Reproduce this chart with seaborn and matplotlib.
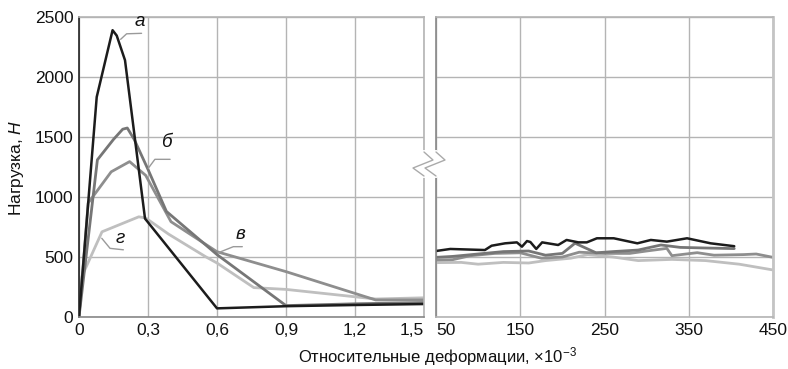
import numpy as np
import pandas as pd
import seaborn as sns
import matplotlib.pyplot as plt
from matplotlib.lines import Line2D

# --- data ---
# left part: small deformations (x 10^-3)
a_x = [0, 0.077, 0.146, 0.164, 0.2, 0.287, 0.6, 0.65, 0.9, 1.2, 1.5]
a_y = [0, 1833, 2390, 2345, 2140, 820, 72, 75, 90, 100, 108]
b_x = [0, 0.08, 0.15, 0.19, 0.21, 0.24, 0.3, 0.38, 0.6, 0.9, 1.0, 1.2, 1.5]
b_y = [0, 1310, 1480, 1565, 1575, 1480, 1230, 880, 520, 95, 100, 110, 120]
v_x = [0, 0.04, 0.14, 0.22, 0.29, 0.4, 0.6, 0.9, 1.29, 1.5]
v_y = [0, 950, 1210, 1295, 1180, 794, 544, 378, 142, 142]
g_x = [0, 0.012, 0.1, 0.26, 0.29, 0.39, 0.55, 0.6, 0.76, 0.9, 1.29, 1.5]
g_y = [0, 336, 710, 835, 825, 690, 503, 450, 245, 230, 150, 160]

# right part: large deformations
ra_x = [50, 67, 108, 116, 132, 146, 152, 158, 162, 169, 176, 195, 205, 219, 229,
        241, 261, 289, 305, 324, 348, 376, 404]
ra_y = [550, 567, 558, 594, 614, 622, 586, 633, 625, 567, 622, 600, 642, 622, 622,
        656, 656, 614, 642, 628, 656, 614, 590]
rb_x = [50, 70, 100, 130, 160, 180, 200, 215, 240, 260, 290, 317, 340, 370, 404]
rb_y = [497, 505, 525, 545, 550, 515, 530, 615, 535, 545, 558, 600, 580, 575, 570]
rv_x = [50, 70, 90, 120, 150, 175, 200, 220, 250, 280, 300, 324, 330, 360, 380, 415, 430, 450]
rv_y = [475, 478, 510, 530, 535, 490, 500, 540, 530, 530, 550, 572, 511, 536, 515, 520, 525, 497]
rg_x = [50, 80, 100, 130, 160, 180, 210, 230, 260, 290, 330, 370, 410, 450]
rg_y = [453, 455, 440, 455, 450, 470, 490, 520, 500, 470, 480, 470, 440, 392]

curve_names = ['а', 'б', 'в', 'г']
colors = {'а': '#1c1c1c', 'б': '#767676', 'в': '#8e8e8e', 'г': '#bfbfbf'}

left_ticks = [0, 0.3, 0.6, 0.9, 1.2, 1.5]
left_tick_labels = ['0', '0,3', '0,6', '0,9', '1,2', '1,5']
right_ticks = [50, 150, 250, 350, 450]
y_ticks = [0, 500, 1000, 1500, 2000, 2500]


def long_df(pairs):
    rows = []
    for name, (xs, ys) in zip(curve_names, pairs):
        for i, (x, y) in enumerate(zip(xs, ys)):
            rows.append({'x': x, 'y': y, 'curve': name, 'i': i})
    return pd.DataFrame(rows)


df_left = long_df([(a_x, a_y), (b_x, b_y), (v_x, v_y), (g_x, g_y)])
df_right = long_df([(ra_x, ra_y), (rb_x, rb_y), (rv_x, rv_y), (rg_x, rg_y)])

sns.set_theme(style='white')
plt.rcParams['font.family'] = ['Liberation Sans', 'DejaVu Sans']
plt.rcParams['mathtext.fontset'] = 'custom'
plt.rcParams['mathtext.rm'] = 'Liberation Sans'
plt.rcParams['mathtext.it'] = 'Liberation Sans:italic'

W, H = 788, 369
fig = plt.figure(figsize=(W / 100, H / 100), dpi=100)
ax1 = fig.add_axes([79 / W, 1 - 317 / H, 345 / W, 300 / H])
ax2 = fig.add_axes([436 / W, 1 - 317 / H, 337 / W, 300 / H])

grid_c = '#b4b4b4'
for ax, df in [(ax1, df_left), (ax2, df_right)]:
    # light curves first so the black one stays on top
    for name in ['г', 'в', 'б', 'а']:
        sub = df[df['curve'] == name]
        sns.lineplot(data=sub, x='x', y='y', sort=False, estimator=None,
                     color=colors[name], linewidth=2.0 if name != 'а' else 1.8,
                     ax=ax, legend=False)
    ax.set_ylim(0, 2500)
    ax.set_yticks(y_ticks)
    ax.grid(True, color=grid_c, linewidth=1.0)
    ax.set_axisbelow(True)
    ax.set_xlabel('')
    ax.set_ylabel('')
    ax.tick_params(axis='both', length=0, labelsize=12.5, colors='#111111', pad=4)
    for s in ax.spines.values():
        s.set_color(grid_c)
        s.set_linewidth(1.2)

ax1.set_xlim(0, 1.5)
ax1.set_xticks(left_ticks)
ax1.set_xticklabels(left_tick_labels)
ax1.spines['left'].set_color('#222222')
ax1.spines['bottom'].set_color('#888888')
# keep "1,5" clear of the "50" on the right panel
ax1.get_xticklabels()[-1].set_horizontalalignment('right')
ax1.get_xticklabels()[-1].set_x(1.5)

ax2.set_xlim(50, 450)
ax2.set_xticks(right_ticks)
ax2.set_yticklabels([])
ax2.get_xticklabels()[0].set_horizontalalignment('left')
ax2.spines['left'].set_color('#888888')
ax2.spines['right'].set_color('#c4c4c4')
ax2.spines['right'].set_linewidth(2)

# curve labels with leader lines
labels = [
    ('а', 0.24, 2395, [(0.181, 2314), (0.207, 2360), (0.272, 2364)]),
    ('б', 0.355, 1380, [(0.301, 1239), (0.33, 1314), (0.396, 1314)]),
    ('в', 0.68, 620, [(0.606, 536), (0.671, 586), (0.71, 586)]),
    ('г', 0.158, 580, [(0.099, 656), (0.135, 572), (0.193, 560)]),
]
for name, tx, ty, pts in labels:
    xs, ys = zip(*pts)
    ax1.plot(xs, ys, color='#9a9a9a', linewidth=1.0)
    ax1.text(tx, ty, name, fontsize=13.5, style='italic', color='#111111',
             ha='left', va='bottom')

# axis break marks
to_fig = lambda p: (p[0] / W, 1 - p[1] / H)
for x0 in (424, 436):
    fig.add_artist(Line2D([x0 / W, x0 / W], [1 - 152 / H, 1 - 176 / H],
                          color='white', linewidth=3, transform=fig.transFigure))
    pts = [to_fig(p) for p in [(x0, 152), (x0 + 9, 160), (x0 - 11, 168), (x0, 176)]]
    xs, ys = zip(*pts)
    fig.add_artist(Line2D(xs, ys, color='#aaaaaa', linewidth=1.0,
                          transform=fig.transFigure))

fig.text(17 / W, 1 - 168 / H, r'Нагрузка, $\mathit{Н}$', rotation=90,
         ha='center', va='center', fontsize=12.5, color='#111111')
fig.text(437 / W, 1 - 357 / H, r'Относительные деформации, ×$\mathit{10^{-3}}$',
         ha='center', va='center', fontsize=12, color='#111111')

fig.savefig('out.png', dpi=100)
